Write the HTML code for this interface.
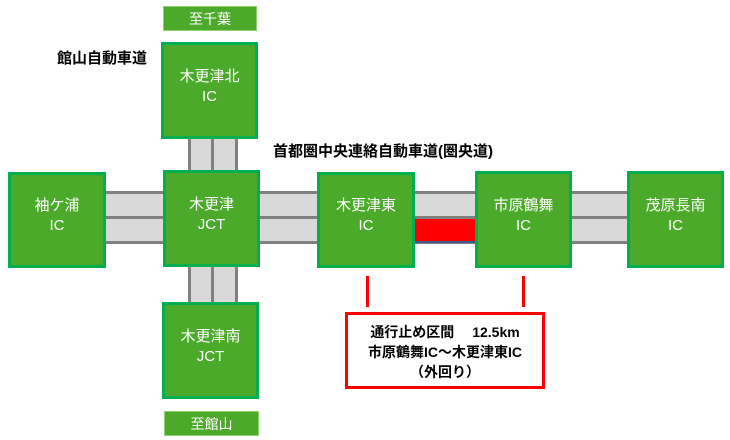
<!DOCTYPE html>
<html><head><meta charset="utf-8"><style>
body{margin:0;width:730px;height:440px;background:#fff;position:relative;overflow:hidden;font-family:"Liberation Sans","Noto Sans CJK JP",sans-serif}
.b{position:absolute;box-sizing:border-box;background:#4caa2a;border:3px solid #00b050;color:#fff;font-size:15px;line-height:20px;display:flex;align-items:center;justify-content:center;text-align:center;padding-bottom:8px}
.t{position:absolute;box-sizing:border-box;background:#4caa2a;border:1px solid #8fd070;color:#fff;font-size:14px;display:flex;align-items:center;justify-content:center}
.r{position:absolute;background:#d9d9d9}
.l{position:absolute;background:#808080}
.lb{position:absolute;font-weight:bold;font-size:15px;color:#000}
</style></head><body>
<div class="r" style="left:100px;top:192px;width:530px;height:51px"></div>
<div class="l" style="left:100px;top:191px;width:530px;height:3px"></div>
<div class="l" style="left:100px;top:216px;width:530px;height:3px"></div>
<div class="l" style="left:100px;top:241px;width:530px;height:3px"></div>
<div style="position:absolute;left:413px;top:219px;width:64px;height:22px;background:#f00"></div>
<div style="position:absolute;left:413px;top:241px;width:64px;height:2px;background:#3a5a8a"></div>
<div class="r" style="left:189px;top:135px;width:48px;height:172px"></div>
<div class="l" style="left:188px;top:135px;width:3px;height:172px"></div>
<div class="l" style="left:211px;top:135px;width:3px;height:172px"></div>
<div class="l" style="left:235px;top:135px;width:3px;height:172px"></div>
<div class="t" style="left:163px;top:6px;width:94px;height:25px">至千葉</div>
<div class="t" style="left:164px;top:411px;width:95px;height:25px">至館山</div>
<div class="b" style="left:161px;top:42px;width:97px;height:97px">木更津北<br>IC</div>
<div class="b" style="left:163px;top:170px;width:97px;height:97px">木更津<br>JCT</div>
<div class="b" style="left:162px;top:302px;width:97px;height:97px">木更津南<br>JCT</div>
<div class="b" style="left:8px;top:172px;width:98px;height:96px">袖ケ浦<br>IC</div>
<div class="b" style="left:317px;top:172px;width:98px;height:96px">木更津東<br>IC</div>
<div class="b" style="left:475px;top:171px;width:97px;height:97px">市原鶴舞<br>IC</div>
<div class="b" style="left:627px;top:171px;width:97px;height:97px">茂原長南<br>IC</div>
<div class="lb" style="left:57px;top:47px">館山自動車道</div>
<div class="lb" style="left:273px;top:140px">首都圏中央連絡自動車道(圏央道)</div>
<div style="position:absolute;left:366px;top:276px;width:3px;height:31px;background:#f00"></div>
<div style="position:absolute;left:522px;top:276px;width:3px;height:31px;background:#f00"></div>
<div style="position:absolute;left:345px;top:312px;width:200px;height:77px;box-sizing:border-box;border:3px solid #f00;background:#fff;text-align:center;font-weight:bold;font-size:14px;line-height:20px;padding-top:7px">通行止め区間　 12.5km<br>市原鶴舞IC～木更津東IC<br>（外回り）</div>
</body></html>
